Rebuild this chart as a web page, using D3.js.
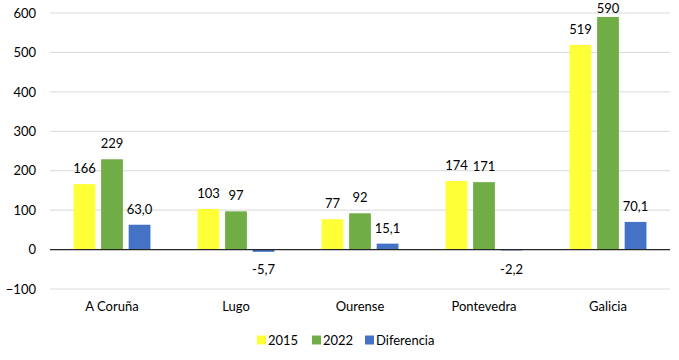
<!DOCTYPE html>
<meta charset="utf-8">
<script src="https://d3js.org/d3.v7.min.js"></script>
<style>
  body { margin: 0; background: #fff; }
  text { font-family: Lato, "Open Sans", sans-serif; fill: #000; }
</style>
<div id="chart"></div>
<script>
  // chart values
  const provinces = ["A Coruña", "Lugo", "Ourense", "Pontevedra", "Galicia"];
  const v2015 = [166, 103, 77, 174, 519];
  const v2022 = [229, 97, 92, 171, 590];
  const diferencia = [63.0, -5.7, 15.1, -2.2, 70.1];
  const seriesNames = ["2015", "2022", "Diferencia"];
  const yTicks = [-100, 0, 100, 200, 300, 400, 500, 600];

  const colors = ["#FFFF38", "#70AD47", "#4472C4"];
  const width = 679, height = 360;
  const margin = {top: 13, right: 9, bottom: 71, left: 50};

  const series = [v2015, v2022, diferencia];
  const data = provinces.map((p, i) => ({
    name: p,
    vals: series.map((s, k) => ({key: seriesNames[k], value: s[i], k: k}))
  }));

  const svg = d3.select("#chart").append("svg")
    .attr("width", width).attr("height", height);

  const x0 = d3.scaleBand().domain(provinces)
    .range([margin.left, width - margin.right]).paddingInner(0.38).paddingOuter(0.19);
  const x1 = d3.scaleBand().domain(seriesNames)
    .range([0, x0.bandwidth()]).paddingInner(0.21).paddingOuter(0);
  const y = d3.scaleLinear().domain([-100, 600])
    .range([height - margin.bottom, margin.top]);

  // grid lines
  svg.append("g").selectAll("line").data(yTicks.filter(d => d !== 0)).join("line")
    .attr("x1", margin.left).attr("x2", width - margin.right)
    .attr("y1", d => y(d)).attr("y2", d => y(d))
    .attr("stroke", "#d9d9d9").attr("stroke-width", 1);

  // y axis labels
  const yAxis = d3.axisLeft(y).tickValues(yTicks).tickSize(0).tickPadding(14);
  svg.append("g").attr("transform", `translate(${margin.left},0)`)
    .call(yAxis)
    .call(g => g.select(".domain").remove())
    .selectAll("text").style("font-size", "13px");

  // bars
  const groups = svg.append("g").selectAll("g").data(data).join("g")
    .attr("transform", d => `translate(${x0(d.name)},0)`);

  groups.selectAll("rect").data(d => d.vals).join("rect")
    .attr("x", d => x1(d.key))
    .attr("width", x1.bandwidth())
    .attr("y", d => y(Math.max(0, d.value)))
    .attr("height", d => Math.abs(y(d.value) - y(0)))
    .attr("fill", d => colors[d.k]);

  const fmt = (d) => d.k === 2 ? d3.format(".1f")(d.value).replace(".", ",").replace("−", "-") : String(d.value);

  groups.selectAll("text").data(d => d.vals).join("text")
    .attr("x", d => x1(d.key) + x1.bandwidth() / 2)
    .attr("y", d => d.value >= 0 ? Math.max(y(d.value) - 11, 13) : y(0) + 24)
    .attr("text-anchor", "middle")
    .style("font-size", "13px")
    .text(fmt);

  // zero line
  svg.append("line")
    .attr("x1", margin.left).attr("x2", width - margin.right)
    .attr("y1", y(0)).attr("y2", y(0))
    .attr("stroke", "#262626").attr("stroke-width", 1.3);

  // category labels
  const xAxis = d3.axisBottom(x0).tickSize(0).tickPadding(0);
  svg.append("g").attr("transform", `translate(0,${y(-100) + 13})`)
    .call(xAxis)
    .call(g => g.select(".domain").remove())
    .selectAll("text").style("font-size", "13px").attr("dy", "0.71em");

  // legend
  const legendX = [257, 312, 365];
  const legend = svg.append("g").selectAll("g").data(seriesNames).join("g")
    .attr("transform", (d, i) => `translate(${legendX[i]},${335})`);
  legend.append("rect").attr("width", 9).attr("height", 9).attr("y", 0.5)
    .attr("fill", (d, i) => colors[i]);
  legend.append("text").attr("x", 11).attr("y", 5).attr("dy", "0.35em")
    .style("font-size", "13px").text(d => d);
</script>
